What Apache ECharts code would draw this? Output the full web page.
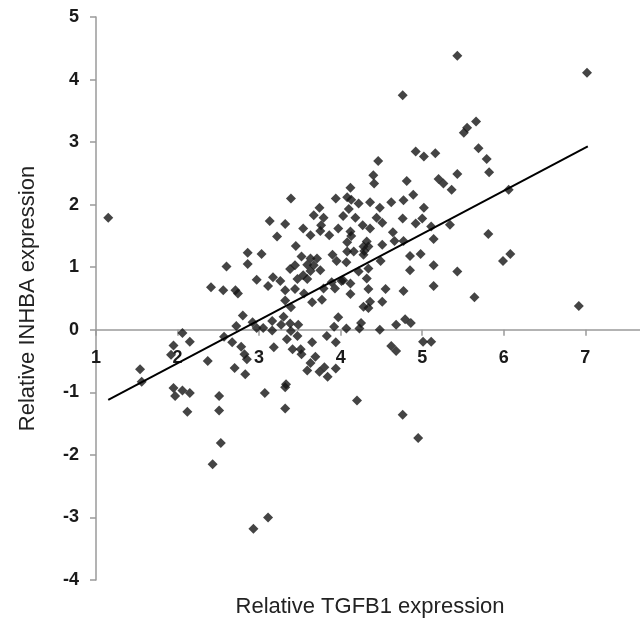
<!DOCTYPE html>
<html><head><meta charset="utf-8">
<script src="https://cdn.jsdelivr.net/npm/echarts@6/dist/echarts.min.js"></script>
<style>html,body{margin:0;padding:0;background:#fff}#c{width:640px;height:625px}</style>
</head><body><div id="c"></div>
<script>
const tgfb1 = [4.76,4.92,5.02,5.16,4.46,5.43,7.02,5.66,5.55,5.51,5.69,5.79,5.43,5.82,5.36,6.06,5.34,5.81,6.08,5.99,5.43,5.64,6.92,
1.15,3.13,2.86,3.03,2.60,2.86,2.41,2.56,2.71,2.74,2.97,3.11,3.17,3.22,
2.80,2.72,2.92,2.97,3.05,3.16,3.16,2.06,2.15,1.95,1.92,2.57,2.67,2.78,2.82,2.85,3.18,2.37,2.70,2.83,1.54,1.56,1.95,1.97,2.06,2.15,2.51,3.07,2.12,2.51,2.53,2.43,3.11,2.93,
3.65,3.77,3.39,3.30,3.27,3.38,3.48,3.39,3.47,3.34,3.65,3.41,3.51,3.52,3.69,3.63,3.59,3.74,3.80,3.84,3.94,3.83,3.94,3.97,3.92,4.07,4.28,4.34,4.36,4.51,4.25,4.23,4.48,4.68,4.79,4.86,4.62,4.68,5.01,5.11,3.33,3.32,3.32,4.20,4.76,4.95,
4.40,4.41,4.81,5.20,5.26,4.12,3.39,3.94,4.08,4.13,4.22,4.36,4.62,4.77,4.89,3.74,3.67,3.79,4.10,4.03,4.18,4.48,4.44,4.51,4.76,5.02,5.00,4.92,5.11,
3.32,3.54,3.76,3.75,3.97,4.27,4.36,3.63,3.86,4.12,4.13,4.64,4.66,4.77,5.14,4.08,4.32,4.28,4.51,3.45,3.90,4.08,4.16,4.29,4.34,4.28,3.52,3.63,3.71,3.95,4.07,4.49,4.85,4.98,5.14,
3.44,3.59,3.67,3.38,3.63,3.75,4.22,4.34,4.85,3.26,3.47,3.54,3.59,3.89,4.01,4.12,4.32,3.32,3.44,3.79,3.93,4.12,4.34,4.55,4.77,5.14,3.32,3.55,4.03];
const inhba = [3.75,2.85,2.77,2.82,2.70,4.38,4.11,3.33,3.23,3.15,2.90,2.73,2.49,2.52,2.24,2.24,1.68,1.53,1.21,1.10,0.93,0.52,0.38,
1.79,1.74,1.23,1.21,1.01,1.05,0.68,0.63,0.63,0.58,0.80,0.70,0.84,1.49,
0.23,0.06,0.12,0.03,0.03,0.14,-0.01,-0.05,-0.19,-0.25,-0.40,-0.11,-0.20,-0.27,-0.39,-0.47,-0.28,-0.50,-0.61,-0.71,-0.63,-0.83,-0.93,-1.06,-0.97,-1.01,-1.06,-1.01,-1.31,-1.29,-1.81,-2.15,-3.00,-3.18,
0.44,0.48,0.36,0.21,0.08,0.10,0.08,-0.02,-0.10,-0.15,-0.20,-0.31,-0.31,-0.39,-0.43,-0.53,-0.65,-0.67,-0.60,-0.75,-0.62,-0.10,-0.20,0.20,0.05,0.02,0.37,0.35,0.45,0.45,0.11,0.02,0.00,0.08,0.17,0.11,-0.26,-0.34,-0.19,-0.19,-0.87,-0.92,-1.26,-1.13,-1.36,-1.73,
2.47,2.34,2.38,2.41,2.34,2.27,2.10,2.10,2.12,2.08,2.02,2.04,2.04,2.07,2.16,1.95,1.83,1.79,1.93,1.82,1.79,1.95,1.79,1.71,1.78,1.95,1.78,1.70,1.65,
1.69,1.62,1.67,1.58,1.62,1.67,1.62,1.51,1.51,1.57,1.50,1.56,1.42,1.42,1.45,1.40,1.41,1.33,1.36,1.34,1.20,1.25,1.25,1.26,1.33,1.20,1.17,1.14,1.14,1.10,1.08,1.10,1.18,1.21,1.03,
1.03,1.04,1.03,0.97,0.94,0.95,0.93,0.98,0.95,0.78,0.81,0.87,0.81,0.76,0.78,0.74,0.82,0.63,0.65,0.66,0.66,0.57,0.65,0.65,0.62,0.70,0.47,0.58,0.79];
const trendX = [1.15, 7.03];
const trendY = [-1.12, 2.93];
const xTicks = [1, 2, 3, 4, 5, 6, 7];
const xTitle = 'Relative TGFB1 expression';
const yTitle = 'Relative INHBA expression';

const points = tgfb1.map((x, i) => [x, inhba[i]]);
const trend = trendX.map((x, i) => [x, trendY[i]]);
const axisColor = '#9a9a9a';
const font = 'Liberation Sans, Arial, sans-serif';
const labelStyle = {color: '#1a1a1a', fontWeight: 'bold', fontSize: 18, fontFamily: font};

const Y_MIN = -4, Y_MAX = 5;
const GRID = {left: 96, right: 0, top: 17, bottom: 45};
const plotH = 625 - GRID.top - GRID.bottom;
// move the x axis up so it crosses the y axis at value 0
const xAxisOffset = -((0 - Y_MIN) / (Y_MAX - Y_MIN)) * plotH;

const chart = echarts.init(document.getElementById('c'), null, {renderer: 'canvas'});
chart.setOption({
  animation: false,
  backgroundColor: '#fff',
  grid: Object.assign({containLabel: false}, GRID),
  graphic: [{
    type: 'text', x: 370, y: 607,
    style: {text: xTitle, align: 'center', verticalAlign: 'middle', fontSize: 22, fill: '#222', fontFamily: font}
  }],
  xAxis: {
    type: 'value', min: 1, max: 7.67, position: 'bottom', offset: xAxisOffset,
    axisLine: {onZero: false, lineStyle: {color: axisColor, width: 1.5}},
    axisTick: {show: true, length: 6, customValues: xTicks, lineStyle: {color: axisColor, width: 1.5}},
    axisLabel: Object.assign({margin: 19, customValues: xTicks}, labelStyle),
    splitLine: {show: false}
  },
  yAxis: {
    type: 'value', min: Y_MIN, max: Y_MAX, interval: 1,
    axisLine: {show: true, onZero: false, lineStyle: {color: axisColor, width: 1.5}},
    axisTick: {show: true, length: 6, lineStyle: {color: axisColor, width: 1.5}},
    axisLabel: Object.assign({margin: 17}, labelStyle),
    splitLine: {show: false},
    name: yTitle, nameLocation: 'middle', nameGap: 57, nameRotate: 90,
    nameTextStyle: {fontSize: 22, color: '#222', fontFamily: font}
  },
  series: [{
    type: 'scatter', data: points, symbol: 'diamond', symbolSize: 10,
    itemStyle: {color: '#151515'}
  }, {
    type: 'line', data: trend, symbol: 'none', silent: true,
    lineStyle: {color: '#000', width: 2}, z: 3
  }]
});
</script></body></html>
